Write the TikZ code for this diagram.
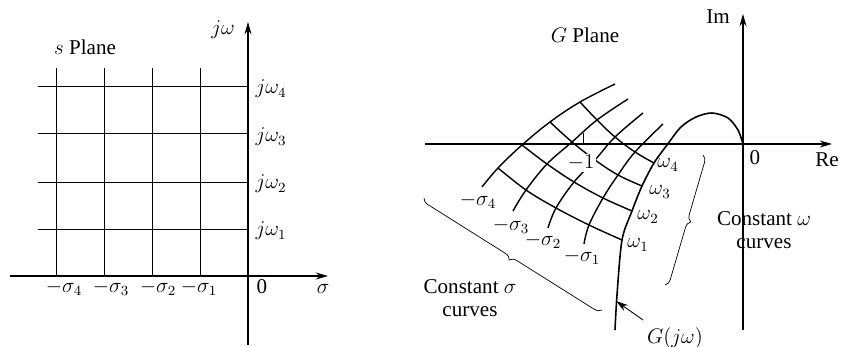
\documentclass[tikz,border=0pt]{standalone}
\usepackage{fontspec}
\setmainfont{Liberation Serif}
\usetikzlibrary{arrows.meta,decorations.pathreplacing}
\tikzset{
  axis/.style={line width=0.7pt,-{Stealth[length=7pt,width=4pt]}},
  grid/.style={line width=0.45pt},
  gline/.style={line width=0.8pt},
  lbl/.style={inner sep=1pt,font=\fontsize{12}{13}\selectfont},
  brc/.style={line width=0.4pt,decorate,decoration={brace,amplitude=4pt}}
}
\begin{document}
\begin{tikzpicture}[x=0.02cm,y=-0.02cm]
\useasboundingbox (0,0) rectangle (843,347);
% s plane
\foreach \x in {56,104,152,200} \draw[grid] (\x,68) -- (\x,276);
\foreach \y in {86,133,182,229} \draw[grid] (38,\y) -- (248,\y);
\draw[axis] (10,276) -- (328,276);
\draw[axis] (248,345) -- (248,22);
\node[lbl] (splane) at (85,47) {$s$ Plane};
\node[lbl] (jw) at (223,30) {$j\omega$};
\node[lbl] (sig) at (323,289) {$\sigma$};
\node[lbl] (zs) at (262,287) {0};
\foreach \y/\k in {89/4,137/3,184/2,231/1}
  \node[lbl] (jw\k) at (271,\y) {$j\omega_{\k}$};
\foreach \x/\k in {64/4,111/3,158/2,199/1}
  \node[lbl] (ms\k) at (\x,288) {$-\sigma_{\k}$};
% G plane
\draw[axis] (425,144) -- (832,144);
\draw[axis] (743,330) -- (743,14);
\draw[line width=0.5pt] (583,133) -- (583,144);
\coordinate (p-4-0) at (482,187); \coordinate (p-4-1) at (498,168);
\coordinate (p-4-2) at (522,145); \coordinate (p-4-3) at (550,122);
\coordinate (p-4-4) at (580,102); \coordinate (p-4-5) at (615,84);
\coordinate (p-3-0) at (513,211); \coordinate (p-3-1) at (526,190);
\coordinate (p-3-2) at (547,164); \coordinate (p-3-3) at (572,142);
\coordinate (p-3-4) at (597,120); \coordinate (p-3-5) at (628,99);
\coordinate (p-2-0) at (548,228); \coordinate (p-2-1) at (556,208);
\coordinate (p-2-2) at (574,182); \coordinate (p-2-3) at (595,160);
\coordinate (p-2-4) at (615,137); \coordinate (p-2-5) at (643,113);
\coordinate (p-1-0) at (584,244); \coordinate (p-1-1) at (589,225);
\coordinate (p-1-2) at (603,198); \coordinate (p-1-3) at (618,175);
\coordinate (p-1-4) at (635,152); \coordinate (p-1-5) at (663,124);
\coordinate (p-0-1) at (622,240); \coordinate (p-0-2) at (632,211);
\coordinate (p-0-3) at (642,186); \coordinate (p-0-4) at (654,163);
\foreach \i in {1,...,4}
  \draw[gline] plot[smooth,tension=0.6] coordinates {(p-\i-0) (p-\i-1) (p-\i-2) (p-\i-3) (p-\i-4) (p-\i-5)};
\foreach \j in {1,...,4}
  \draw[gline] plot[smooth,tension=0.6] coordinates {(p-4-\j) (p-3-\j) (p-2-\j) (p-1-\j) (p-0-\j)};
\draw[line width=0.9pt] plot[smooth] coordinates {(615,330) (617,295) (p-0-1) (p-0-2) (p-0-3) (p-0-4) (667,145) (681,127) (696,117) (712,113) (728,118) (738,130) (743,144)};
\node[lbl,fill=white] (m1) at (581,163) {$-1$};
\node[lbl] (gplane) at (585,35) {$G$ Plane};
\node[lbl] (im) at (718,17) {Im};
\node[lbl] (re) at (827,160) {Re};
\node[lbl] (zg) at (755,158) {0};
\foreach \x/\y/\k in {668/165/4,660/192/3,648/217/2,638/245/1}
  \node[lbl] (w\k) at (\x,\y) {$\omega_{\k}$};
\foreach \x/\y/\k in {478/201/4,511/226/3,543/241/2,582/257/1}
  \node[lbl] (gs\k) at (\x,\y) {$-\sigma_{\k}$};
\node[lbl,align=center] (csig) at (470,298) {Constant $\sigma$\\curves};
\node[lbl,align=center] (comg) at (764,230) {Constant $\omega$\\curves};
\node[lbl] (gjw) at (675,338) {$G(j\omega)$};
\coordinate (gtail) at (643,320);
\coordinate (gtip) at (616,301);
\draw[line width=0.5pt,-{Stealth[length=7pt,width=4pt]}] (gtail) -- (gtip);
\draw[brc] (602,310) -- (424,198);
\draw[brc] (703,155) -- (665,285);
\end{tikzpicture}
\end{document}
